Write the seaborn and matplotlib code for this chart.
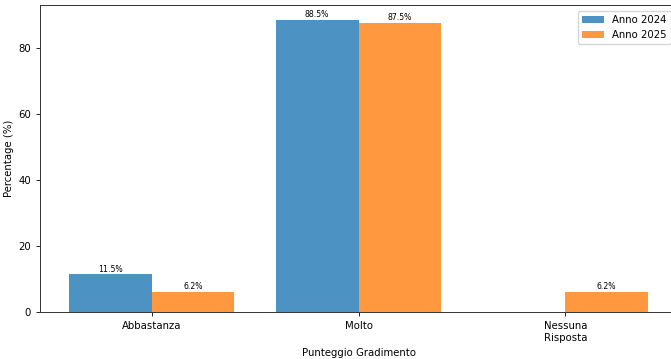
import numpy as np
import pandas as pd
import matplotlib
matplotlib.use("Agg")
import matplotlib.pyplot as plt
import seaborn as sns

categories = ["Abbastanza", "Molto", "Nessuna\nRisposta"]
anno_2024 = [11.5, 88.5, 0.0]
anno_2025 = [6.2, 87.5, 6.2]
series = ["Anno 2024", "Anno 2025"]

df = pd.DataFrame({
    "categoria": categories * 2,
    "valore": anno_2024 + anno_2025,
    "anno": [series[0]] * 3 + [series[1]] * 3,
})

plt.rcParams["font.family"] = ["DejaVu Sans"]

fig = plt.figure(figsize=(6.71, 3.59), dpi=100)
ax = fig.add_axes([40 / 671, (359 - 312) / 359, 637 / 671, 307 / 359])

sns.barplot(data=df, x="categoria", y="valore", hue="anno", order=categories,
            hue_order=series, palette=["#1f77b4", "#ff7f0e"], saturation=1,
            alpha=0.8, width=0.8, linewidth=0, errorbar=None, ax=ax)

for cont in ax.containers:
    labels = [f"{b.get_height():.1f}%" if b.get_height() > 0 else "" for b in cont]
    ax.bar_label(cont, labels=labels, fontsize=5.6, padding=0.3)

ax.set_xlim(-0.54, 2.54)
ax.set_ylim(0, 92.9)
ax.set_xlabel("Punteggio Gradimento", fontsize=7.3, labelpad=4)
ax.set_ylabel("Percentage (%)", fontsize=7.3, labelpad=3)
ax.tick_params(labelsize=7.3, width=0.6, length=3)
for s in ax.spines.values():
    s.set_linewidth(0.7)
    s.set_edgecolor("#333333")
ax.legend(loc="upper right", fontsize=7.3, borderaxespad=0.6, handlelength=2.2)

fig.savefig("out.png", dpi=100)
